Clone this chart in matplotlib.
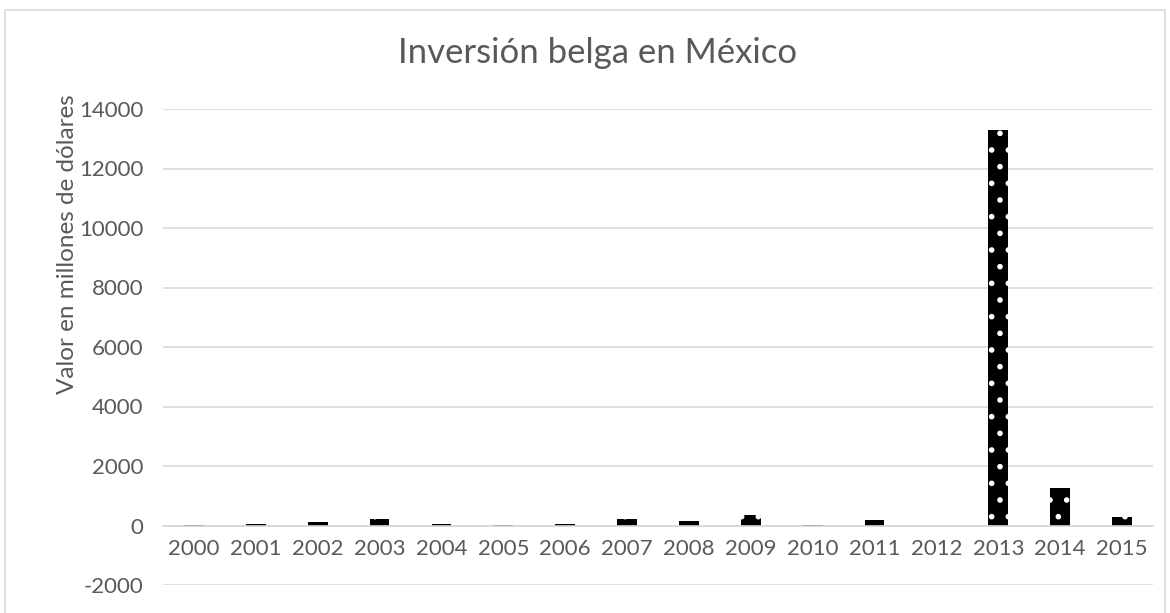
import matplotlib.pyplot as plt

years = ["2000", "2001", "2002", "2003", "2004", "2005", "2006", "2007",
         "2008", "2009", "2010", "2011", "2012", "2013", "2014", "2015"]
values = [30, 60, 130, 220, 40, 10, 50, 230, 160, 350, 30, 180, 0, 13300, 1270, 300]

y_ticks = list(range(-2000, 14001, 2000))

GRAY_TEXT = "#595959"
GRID = "#d9d9d9"

plt.rcParams["font.family"] = ["Lato", "DejaVu Sans"]
plt.rcParams["hatch.linewidth"] = 1.6

fig = plt.figure(figsize=(11.7, 6.13), dpi=100)
ax = fig.add_axes([163 / 1170, 1 - 585 / 613, (1153 - 163) / 1170, (585 - 109) / 613])

x = list(range(len(years)))
ax.bar(x, values, width=0.32, color="black", edgecolor="white", hatch=".", linewidth=0)

ax.set_xlim(-0.5, len(years) - 0.5)
ax.set_ylim(-2000, 14000)
ax.set_yticks(y_ticks)
ax.set_yticklabels([str(t) for t in y_ticks])
ax.set_xticks(x)
ax.set_xticklabels(years)

ax.grid(axis="y", color=GRID, linewidth=1.2)
ax.set_axisbelow(True)
for side in ["top", "right", "left"]:
    ax.spines[side].set_visible(False)
ax.spines["bottom"].set_position(("data", 0))
ax.spines["bottom"].set_color(GRID)
ax.spines["bottom"].set_linewidth(1.2)
ax.tick_params(axis="both", length=0, labelsize=16, colors=GRAY_TEXT)
ax.tick_params(axis="x", pad=10)
ax.tick_params(axis="y", pad=14)

fig.text(598 / 1170, 1 - 53 / 613, "Inversión belga en México", ha="center", va="center",
         fontsize=25, color=GRAY_TEXT)
fig.text(68 / 1170, 1 - 244 / 613, "Valor en millones de dólares", ha="center", va="center",
         rotation=90, fontsize=17.5, color=GRAY_TEXT)

# outer chart border
border = plt.Rectangle((5 / 1170, -0.05), 1160 / 1170, 1.05 - 10 / 613, transform=fig.transFigure,
                       fill=False, edgecolor=GRID, linewidth=1.2)
fig.patches.append(border)

fig.savefig("out.png", dpi=100)
